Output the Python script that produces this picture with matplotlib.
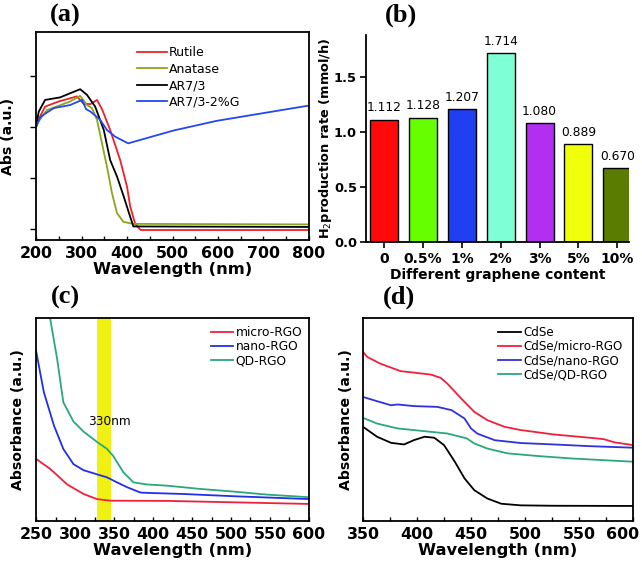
import numpy as np
import matplotlib.pyplot as plt
from matplotlib.transforms import ScaledTranslation

# ---- panel (a): UV-vis of TiO2 samples ----
a_rut_x = [200, 205, 220, 250, 290, 305, 320, 334, 345, 363, 385, 400, 407, 418, 430, 800]
a_rut_y = [2.00, 2.14, 2.40, 2.50, 2.60, 2.45, 2.45, 2.53, 2.35, 1.94, 1.35, 0.83, 0.44, 0.10, -0.02, -0.02]
a_ana_x = [200, 205, 224, 275, 297, 312, 323, 334, 345, 356, 367, 378, 392, 414, 800]
a_ana_y = [2.00, 2.10, 2.33, 2.50, 2.61, 2.43, 2.37, 2.14, 1.68, 1.22, 0.70, 0.31, 0.14, 0.10, 0.09]
a_ar_x = [200, 206, 220, 253, 283, 297, 312, 330, 349, 363, 378, 393, 407, 414, 800]
a_ar_y = [2.00, 2.30, 2.53, 2.58, 2.69, 2.74, 2.63, 2.40, 1.94, 1.35, 1.03, 0.63, 0.24, 0.05, 0.04]
a_arg_x = [200, 210, 239, 275, 301, 310, 320, 341, 356, 374, 400, 403, 502, 597, 800]
a_arg_y = [2.00, 2.20, 2.37, 2.43, 2.53, 2.35, 2.30, 2.14, 1.94, 1.81, 1.69, 1.68, 1.93, 2.12, 2.42]

# ---- panel (b): H2 production rate ----
b_labels = ['0', '0.5%', '1%', '2%', '3%', '5%', '10%']
b_values = [1.112, 1.128, 1.207, 1.714, 1.080, 0.889, 0.670]
b_colors = ['#ff0a0a', '#66ff00', '#1f3ff0', '#7fffd6', '#b22ff2', '#f2ff0a', '#5a7c00']

# ---- panel (c): RGO absorbance ----
c_micro_x = [250, 268, 290, 311, 328, 345, 418, 503, 600]
c_micro_y = [0.306, 0.257, 0.18, 0.133, 0.108, 0.10, 0.099, 0.092, 0.084]
c_nano_x = [250, 260, 273, 285, 298, 311, 328, 341, 354, 367, 384, 396, 439, 503, 600]
c_nano_y = [0.84, 0.635, 0.47, 0.355, 0.28, 0.25, 0.23, 0.215, 0.19, 0.166, 0.14, 0.138, 0.133, 0.122, 0.108]
c_qd_x = [250, 260, 268, 277, 285, 298, 311, 328, 341, 349, 362, 375, 392, 418, 460, 503, 546, 600]
c_qd_y = [1.60, 1.25, 1.00, 0.80, 0.585, 0.49, 0.44, 0.39, 0.355, 0.32, 0.24, 0.19, 0.18, 0.174, 0.158, 0.145, 0.13, 0.117]

# ---- panel (d): CdSe composites ----
d_cdse_x = [350, 363, 376, 388, 397, 407, 416, 425, 435, 444, 453, 465, 478, 496, 527, 600]
d_cdse_y = [0.464, 0.415, 0.385, 0.377, 0.398, 0.415, 0.41, 0.374, 0.292, 0.21, 0.152, 0.111, 0.085, 0.077, 0.075, 0.074]
d_micro_x = [350, 354, 366, 385, 397, 413, 422, 428, 441, 453, 465, 481, 496, 527, 558, 573, 583, 600]
d_micro_y = [0.833, 0.808, 0.775, 0.738, 0.731, 0.721, 0.705, 0.677, 0.603, 0.538, 0.497, 0.464, 0.448, 0.426, 0.411, 0.403, 0.387, 0.374]
d_nano_x = [350, 363, 376, 382, 397, 419, 432, 444, 450, 456, 472, 496, 527, 558, 600]
d_nano_y = [0.611, 0.59, 0.57, 0.574, 0.566, 0.562, 0.546, 0.505, 0.456, 0.43, 0.398, 0.384, 0.377, 0.369, 0.361]
d_qd_x = [350, 363, 382, 404, 428, 446, 453, 465, 484, 512, 543, 600]
d_qd_y = [0.508, 0.48, 0.456, 0.444, 0.431, 0.407, 0.382, 0.357, 0.333, 0.32, 0.308, 0.292]

plt.rcParams['font.family'] = ['DejaVu Sans']
fig = plt.figure(figsize=(6.42, 5.65), dpi=100)

title_font = dict(fontsize=19, fontweight='bold', family='Liberation Serif', ha='center', va='center')
lw = 1.3


def style_spectrum(ax, ylab, ylab_x, leg_x, leg_y, handlelen, legsize, legspace=0.1):
    ax.set_yticks([])
    ax.tick_params(axis='x', which='both', direction='in', length=3, width=1,
                   labelsize=11.4, pad=4)
    for lbl in ax.get_xticklabels():
        lbl.set_fontweight('bold')
    ax.set_xlabel('Wavelength (nm)', fontsize=11.8, fontweight='bold', labelpad=1)
    ax.set_ylabel(ylab, fontsize=10.1, fontweight='bold')
    ax.yaxis.set_label_coords(ylab_x, 0.5)
    ax.legend(loc='upper left', bbox_to_anchor=(leg_x, leg_y), frameon=False, fontsize=legsize,
              handlelength=handlelen, handletextpad=0.2, labelspacing=legspace, borderaxespad=0)
    for s in ax.spines.values():
        s.set_linewidth(1.3)


# (a)
ax = fig.add_axes([0.0561, 0.5752, 0.4252, 0.368])
ax.plot(a_rut_x, a_rut_y, color='#f0202a', lw=lw, label='Rutile')
ax.plot(a_ana_x, a_ana_y, color='#8aa61a', lw=lw, label='Anatase')
ax.plot(a_ar_x, a_ar_y, color='black', lw=lw, label='AR7/3')
ax.plot(a_arg_x, a_arg_y, color='#2448f0', lw=lw, label='AR7/3-2%G')
ax.set_xlim(200, 800)
ax.set_ylim(-0.216, 3.86)
ax.set_xticks(range(200, 801, 100))
ax.set_xticks(range(250, 800, 100), minor=True)
style_spectrum(ax, 'Abs (a.u.)', -0.077, 0.35, 0.955, 2.4, 9, 0.27)
ax.set_yticks([0, 1, 2, 3])
ax.set_yticklabels([])
ax.tick_params(axis='y', direction='out', length=4, width=1)
fig.text(65 / 642, 1 - 15 / 565, '(a)', **title_font)

# (b)
ax = fig.add_axes([0.570, 0.5717, 0.4097, 0.3664])
xpos = np.arange(len(b_values))
ax.bar(xpos, b_values, width=0.72, color=b_colors, edgecolor='black', linewidth=1)
for xp, v in zip(xpos, b_values):
    ax.text(xp, v + 0.05, f'{v:.3f}', ha='center', va='bottom', fontsize=8.8)
ax.set_xlim(-0.47, 6.3)
ax.set_ylim(0, 1.88)
ax.set_yticks([0, 0.5, 1.0, 1.5])
ax.set_yticklabels(['0.0', '0.5', '1.0', '1.5'])
ax.set_xticks(xpos)
ax.set_xticklabels(b_labels)
ax.tick_params(axis='both', direction='out', length=4, width=1.2)
ax.tick_params(axis='x', labelsize=10)
ax.tick_params(axis='y', labelsize=9.4, pad=2.5)
for lbl in ax.get_xticklabels() + ax.get_yticklabels():
    lbl.set_fontweight('bold')
ax.spines['top'].set_visible(False)
ax.spines['right'].set_visible(False)
ax.spines['left'].set_linewidth(1.3)
ax.spines['bottom'].set_linewidth(1.3)
ax.set_xlabel('Different graphene content', fontsize=10, fontweight='bold', labelpad=1)
ax.set_ylabel('H$_2$production rate (mmol/h)', fontsize=9.3, fontweight='bold')
ax.yaxis.set_label_coords(-0.12, 0.5)
fig.text(401 / 642, 1 - 15 / 565, '(b)', **title_font)

# (c)
ax = fig.add_axes([0.0561, 0.0779, 0.4252, 0.3593])
ax.axvspan(328, 346, color='#f0f012', lw=0, zorder=0)
ax.plot(c_micro_x, c_micro_y, color='#f0203a', lw=lw, label='micro-RGO')
ax.plot(c_nano_x, c_nano_y, color='#2030e8', lw=lw, label='nano-RGO')
ax.plot(c_qd_x, c_qd_y, color='#2aa87a', lw=lw, label='QD-RGO')
ax.text(317, 0.49, '330nm', fontsize=8.7, ha='left', va='center')
ax.set_xlim(250, 600)
ax.set_ylim(0, 1)
ax.set_xticks(range(250, 601, 50))
ax.set_xticks(range(275, 600, 50), minor=True)
style_spectrum(ax, 'Absorbance (a.u.)', -0.04, 0.623, 0.985, 1.8, 8.8)
fig.text(65 / 642, 1 - 297 / 565, '(c)', **title_font)

# (d)
ax = fig.add_axes([363 / 642, 0.0779, 270 / 642, 0.3593])
ax.plot(d_cdse_x, d_cdse_y, color='black', lw=lw, label='CdSe')
ax.plot(d_micro_x, d_micro_y, color='#f0203a', lw=lw, label='CdSe/micro-RGO')
ax.plot(d_nano_x, d_nano_y, color='#3030e0', lw=lw, label='CdSe/nano-RGO')
ax.plot(d_qd_x, d_qd_y, color='#2aa87a', lw=lw, label='CdSe/QD-RGO')
ax.set_xlim(350, 600)
ax.set_ylim(0, 1)
ax.set_xticks(range(350, 601, 50))
ax.set_xticks(range(375, 600, 50), minor=True)
style_spectrum(ax, 'Absorbance (a.u.)', -0.037, 0.482, 0.985, 1.9, 8.6)
last = ax.get_xticklabels()[-1]
last.set_transform(last.get_transform() + ScaledTranslation(-10 / 100, 0, fig.dpi_scale_trans))
fig.text(399 / 642, 1 - 297 / 565, '(d)', **title_font)

fig.savefig('out.png', dpi=100)
